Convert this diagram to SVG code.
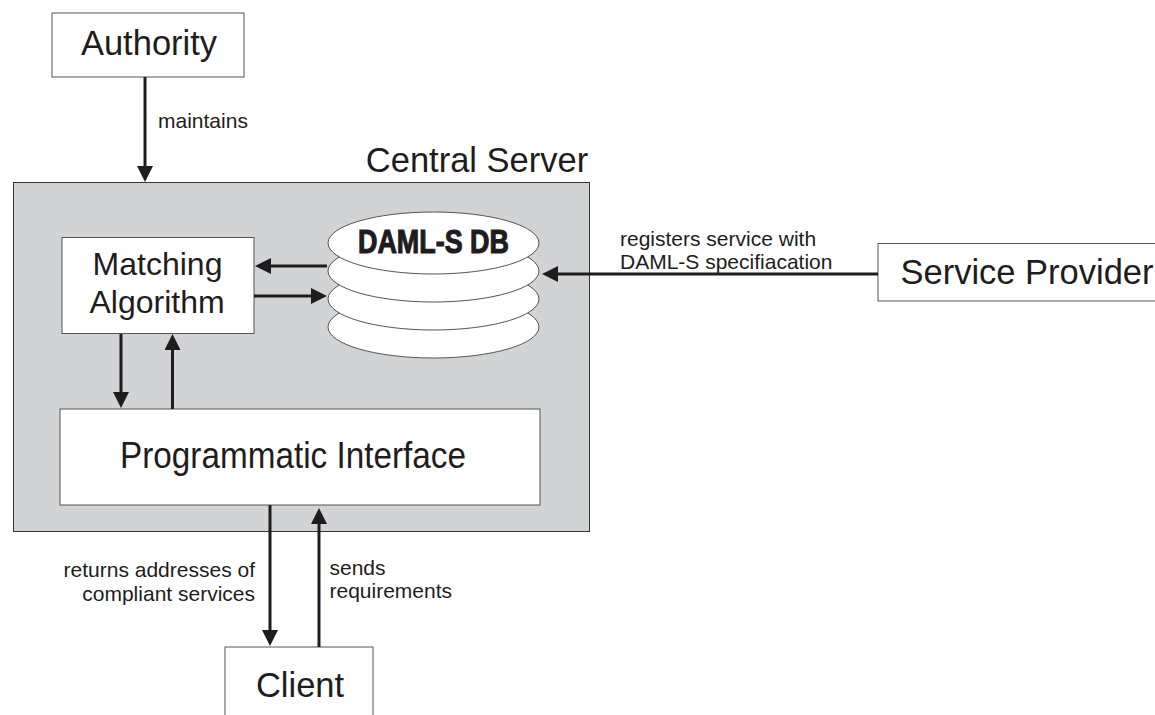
<svg xmlns="http://www.w3.org/2000/svg" width="1155" height="715" viewBox="0 0 1155 715">
<defs><marker id="a" markerUnits="userSpaceOnUse" markerWidth="16" markerHeight="16" refX="8" refY="8" orient="auto"><path d="M0 0L16 8L0 16Z" fill="#1f1c1d"/></marker></defs>
<style>
text{font-family:"Liberation Sans",Arial,sans-serif;fill:#1f1c1d}
.b{fill:#fff;stroke:#555;stroke-width:1}
.l{font-size:21px}
.n{font-size:34.5px;text-anchor:middle}
.m{font-size:32px;text-anchor:middle}
.c{fill:none;stroke:#1f1c1d;stroke-width:3;marker-end:url(#a)}
</style>
<rect width="1155" height="715" fill="#fff"/>
<g id="central-server"><rect x="13.500" y="182.500" width="576" height="349" fill="#d1d3d4" stroke="#333"/><text x="477" y="172" class="n">Central Server</text></g>
<g id="authority"><rect class="b" x="52" y="13" width="192" height="64"/><text x="149" y="55" class="n">Authority</text></g>
<g id="matching"><rect class="b" x="62" y="237.500" width="192" height="96"/><text x="157.500" y="275" class="m">Matching</text><text x="157" y="313" class="m">Algorithm</text></g>
<g id="db">
<ellipse class="b" cx="433.500" cy="327" rx="105.500" ry="31"/>
<ellipse class="b" cx="433.500" cy="299" rx="105.500" ry="31"/>
<ellipse class="b" cx="433.500" cy="271" rx="105.500" ry="31"/>
<ellipse class="b" cx="433.500" cy="243" rx="105.500" ry="31"/>
<text x="358" y="253" textLength="151" lengthAdjust="spacingAndGlyphs" style="font-size:33px;font-weight:bold;stroke:#1f1c1d;stroke-width:1.100">DAML-S DB</text></g>
<g id="interface"><rect class="b" x="60" y="409" width="480" height="96"/><text x="120" y="468" textLength="346" lengthAdjust="spacingAndGlyphs" style="font-size:37px">Programmatic Interface</text></g>
<g id="provider"><rect class="b" x="878" y="243.500" width="280" height="57.500"/><text x="1027" y="284" class="n">Service Provider</text></g>
<g id="client"><rect class="b" x="225" y="647" width="148" height="80"/><text x="300" y="697" class="n">Client</text></g>
<g id="connectors">
<path class="c" d="M145 77V174"/>
<path class="c" d="M327 266H263"/>
<path class="c" d="M254 296H319"/>
<path class="c" d="M878 274H550"/>
<path class="c" d="M121 334V400"/>
<path class="c" d="M172.500 409V342"/>
<path class="c" d="M270 505V638"/>
<path class="c" d="M319 647V516"/>
</g>
<g id="labels">
<text x="158" y="128" class="l">maintains</text>
<text x="620" y="246" class="l">registers service with</text>
<text x="620" y="269" class="l">DAML-S specifiacation</text>
<text x="255" y="577" class="l" text-anchor="end">returns addresses of</text>
<text x="255" y="601" class="l" text-anchor="end">compliant services</text>
<text x="329.500" y="575" class="l">sends</text>
<text x="329.500" y="598" class="l">requirements</text>
</g>
</svg>
